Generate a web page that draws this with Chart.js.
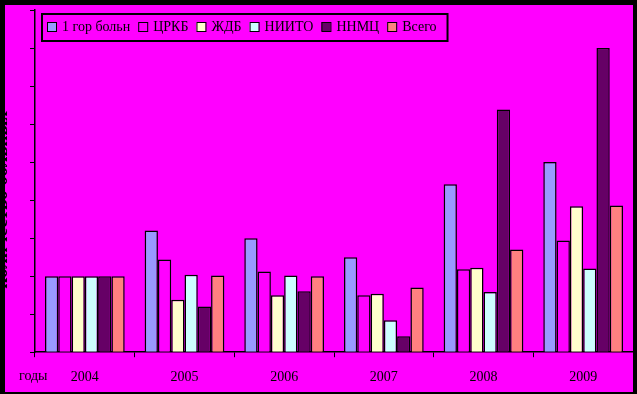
<!DOCTYPE html>
<html>
<head>
<meta charset="utf-8">
<script src="https://cdn.jsdelivr.net/npm/chart.js@4"></script>
<style>
  html, body { margin: 0; padding: 0; background: #000; }
  #wrap { position: absolute; left: 5px; top: 5px; width: 628px; height: 387px; background: #ff00ff; overflow: hidden; }
</style>
</head>
<body>
<div id="wrap"><canvas id="chart" width="628" height="387"></canvas></div>
<script>
// categories and series (2004 = 100)
const years = ["2004", "2005", "2006", "2007", "2008", "2009"];
const gorBoln = [100, 160, 150, 125, 221, 250];
const crkb = [100, 122, 106, 75, 109, 147];
const zhdb = [100, 69, 75, 77, 111, 192];
const niito = [100, 102, 101, 42, 79, 110];
const nnmc = [100, 60, 80, 21, 319, 400];
const vsego = [100, 101, 100, 85, 135, 193];

const seriesNames = ["1 гор больн", "ЦРКБ", "ЖДБ", "НИИТО", "ННМЦ", "Всего"];
const seriesColors = ["#9999ff", "#ff00ff", "#ffffcc", "#ccffff", "#660066", "#ff8080"];
const seriesData = [gorBoln, crkb, zhdb, niito, nnmc, vsego];

const yTitle = "количество больных";
const xTitle = "годы";

// legend box drawn inside the plot, plus the side texts
const extras = {
  id: "extras",
  afterDraw(chart) {
    const ctx = chart.ctx;
    const area = chart.chartArea;
    ctx.save();

    // legend
    ctx.font = "14px 'Liberation Serif', serif";
    ctx.textBaseline = "middle";
    const cy = area.top + 17;
    let x = area.left + 12;
    const boxLeft = area.left + 7;
    chart.data.datasets.forEach((ds) => {
      ctx.fillStyle = ds.backgroundColor;
      ctx.fillRect(x, cy - 5, 9, 9);
      ctx.strokeStyle = "#000";
      ctx.lineWidth = 1;
      ctx.strokeRect(x + 0.5, cy - 4.5, 9, 9);
      ctx.fillStyle = "#000";
      ctx.fillText(ds.label, x + 15, cy);
      x += 15 + ctx.measureText(ds.label).width + 8;
    });
    ctx.lineWidth = 2;
    ctx.strokeStyle = "#000";
    ctx.strokeRect(boxLeft, area.top + 4, x + 3 - boxLeft, 27);

    // x title at the left of the year labels
    const xs = chart.scales.x;
    const labelY = xs.getLabelItems()[0].options.translation[1];
    ctx.font = "14px 'Liberation Serif', serif";
    ctx.textAlign = "left";
    ctx.textBaseline = "top";
    ctx.fillText(xTitle, 14, labelY);

    // y title, mostly hidden by the frame
    ctx.translate(2, 195);
    ctx.rotate(-Math.PI / 2);
    ctx.textAlign = "center";
    ctx.textBaseline = "alphabetic";
    ctx.font = "bold 19px 'Liberation Serif', serif";
    ctx.fillText(yTitle, 0, 0);
    ctx.restore();
  }
};

new Chart(document.getElementById("chart").getContext("2d"), {
  type: "bar",
  data: {
    labels: years,
    datasets: seriesNames.map((name, i) => ({
      label: name,
      data: seriesData[i],
      backgroundColor: seriesColors[i],
      borderColor: "#000",
      borderWidth: 1.5,
      categoryPercentage: 0.8,
      barPercentage: 1.0
    }))
  },
  options: {
    responsive: false,
    animation: false,
    layout: { padding: { left: 25, top: 5, right: 0, bottom: -6 } },
    plugins: { legend: { display: false }, tooltip: { enabled: false } },
    scales: {
      x: {
        grid: { display: true, drawOnChartArea: false, color: "#000", tickLength: 5, offset: true },
        border: { color: "#000", width: 1.5 },
        ticks: { color: "#000", font: { family: "'Liberation Serif', serif", size: 14 }, padding: 12, maxRotation: 0 }
      },
      y: {
        min: 0,
        max: 450,
        ticks: { display: false, stepSize: 50 },
        grid: { display: true, drawOnChartArea: false, color: "#000", tickLength: 5 },
        border: { color: "#000", width: 1.5 }
      }
    }
  },
  plugins: [extras]
});
</script>
</body>
</html>
